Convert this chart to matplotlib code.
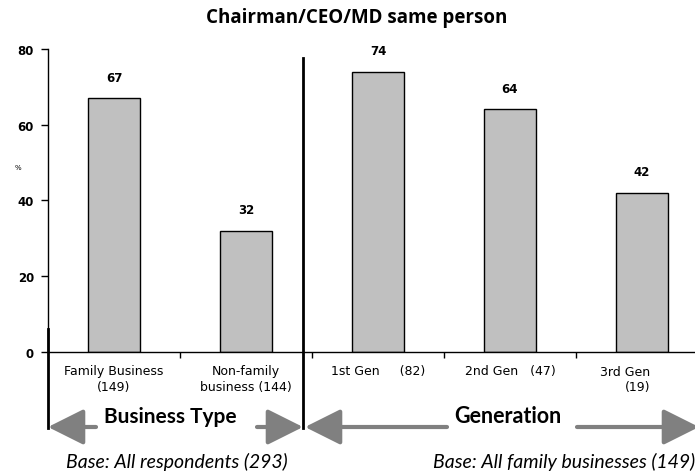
import numpy as np
import matplotlib
matplotlib.use("Agg")
import matplotlib.pyplot as plt
from matplotlib.patches import FancyArrowPatch
from matplotlib.transforms import ScaledTranslation

# data
categories = ["Family Business\n(149)", "Non-family\nbusiness (144)",
              "1st Gen     (82)", "2nd Gen   (47)", "3rd Gen\n(19)"]
values = [67, 32, 74, 64, 42]
yticks = [0, 20, 40, 60, 80]
group_labels = ["Business Type", "Generation"]
base_labels = ["Base: All respondents (293)", "Base: All family businesses (149)"]
title = "Chairman/CEO/MD same person"

W, H = 695, 477
fig = plt.figure(figsize=(W / 100, H / 100), dpi=100)

def fx(px):
    return px / W

def fy(py):
    return 1 - py / H

ax = fig.add_axes([fx(48), fy(353), fx(660), 303.2 / H])
x = np.arange(len(values))
ax.bar(x, values, width=0.4, color="#c0c0c0", edgecolor="black", linewidth=1.0)
ax.set_xlim(-0.5, len(values) - 0.5)
ax.set_ylim(0, 80)

for xi, v in zip(x, values):
    ax.annotate(str(v), (xi, v), xytext=(0, 15), textcoords="offset points",
                ha="center", va="center", fontsize=8.5, fontweight="bold",
                family="DejaVu Sans")

for s in ["top", "right"]:
    ax.spines[s].set_visible(False)
ax.spines["left"].set_linewidth(1.0)
ax.spines["bottom"].set_linewidth(1.0)

ax.set_yticks(yticks)
ax.set_yticklabels([str(t) for t in yticks], fontsize=8.5, fontweight="bold",
                   family="DejaVu Sans")
ax.tick_params(axis="y", length=5, width=1, pad=5)

ax.set_xticks(x)
ax.set_xticklabels(categories, fontsize=9, family="DejaVu Sans", linespacing=1.2)
ax.tick_params(axis="x", which="major", length=0, pad=9)
ax.set_xticks(x[:-1] + 0.5, minor=True)
ax.tick_params(axis="x", which="minor", length=4, width=1, direction="out")

# last label sits right-aligned in its slot
last = ax.get_xticklabels()[-1]
last.set_multialignment("right")
last.set_transform(last.get_transform() + ScaledTranslation(-0.17, 0, fig.dpi_scale_trans))

fig.text(fx(18), fy(168), "%", fontsize=5, ha="center", va="center")

fig.text(fx(357), fy(18), title, fontsize=13.5, fontweight="bold", family="Open Sans",
         ha="center", va="center")

# bracket lines
fig.add_artist(plt.Line2D([fx(48), fx(48)], [fy(330), fy(429)], color="black", lw=2))
fig.add_artist(plt.Line2D([fx(303), fx(303)], [fy(59), fy(429)], color="black", lw=2))

# arrows
arrow_y = fy(428)
for start, end in [(96, 48), (257, 303), (447, 305), (577, 699)]:
    fig.add_artist(FancyArrowPatch(
        (fx(start), arrow_y), (fx(end), arrow_y), transform=fig.transFigure,
        arrowstyle="-|>,head_length=1.0,head_width=0.5", mutation_scale=22,
        color="#808080", lw=3, shrinkA=0, shrinkB=0))

fig.text(fx(170), fy(417), group_labels[0], fontsize=15, fontweight="bold",
         family="Lato", ha="center", va="center")
fig.text(fx(508), fy(417), group_labels[1], fontsize=15.5, fontweight="bold",
         family="Lato", ha="center", va="center")

fig.text(fx(177), fy(462), base_labels[0], fontsize=14, style="italic",
         family="Lato", ha="center", va="center")
fig.text(fx(564), fy(462), base_labels[1], fontsize=14, style="italic",
         family="Lato", ha="center", va="center")

fig.savefig("out.png", dpi=100)
